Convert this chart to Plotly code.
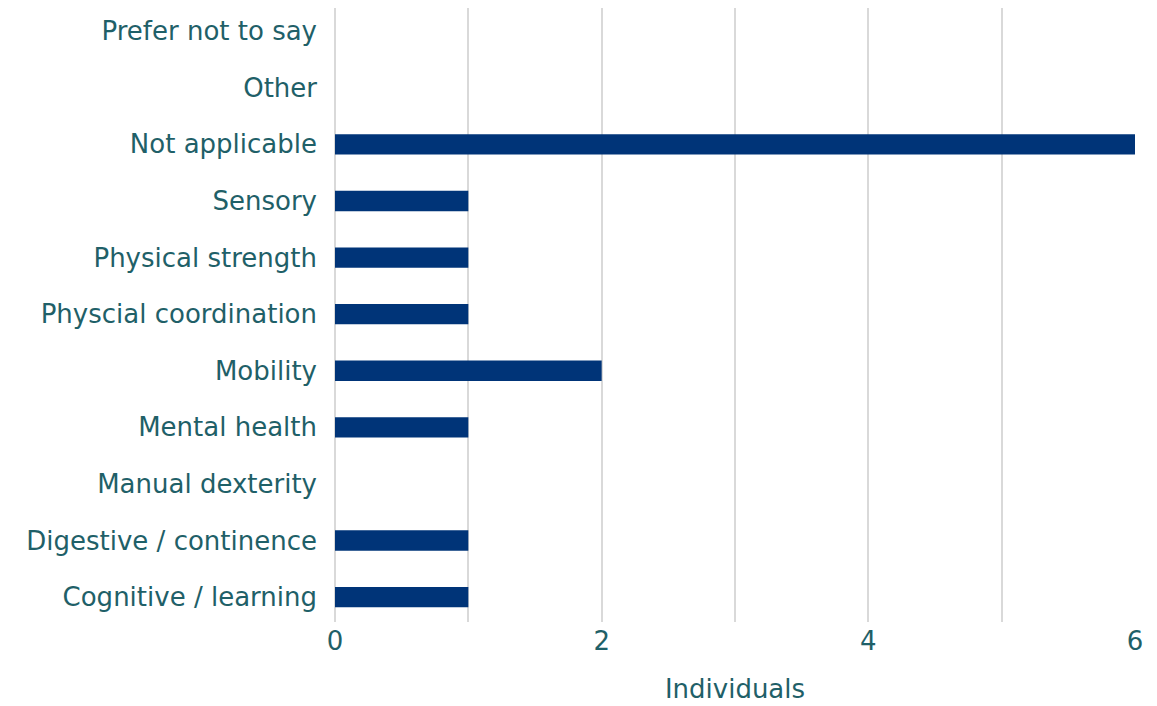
import plotly.graph_objects as go

categories = ["Cognitive / learning", "Digestive / continence", "Manual dexterity",
              "Mental health", "Mobility", "Physcial coordination", "Physical strength",
              "Sensory", "Not applicable", "Other", "Prefer not to say"]
values = [1, 1, 0, 1, 2, 1, 1, 1, 6, 0, 0]
x_ticks = [0, 2, 4, 6]

text_color = "#1f6068"
bar_color = "#003478"
grid_color = "#d9d9d9"
font_family = "DejaVu Sans"
fs = 26

fig = go.Figure(go.Bar(
    x=values, y=categories, orientation="h",
    marker=dict(color=bar_color, line=dict(width=0)),
    width=0.36,
))

fig.update_layout(
    width=1149, height=698,
    margin=dict(l=327, r=22, t=0, b=84),
    paper_bgcolor="white", plot_bgcolor="white",
    font=dict(family=font_family, color=text_color, size=fs),
    showlegend=False,
)
fig.update_xaxes(
    range=[0, 6], tickvals=x_ticks, ticktext=[str(v) for v in x_ticks],
    showgrid=True, gridcolor=grid_color, gridwidth=2,
    minor=dict(dtick=1, showgrid=True, gridcolor=grid_color, gridwidth=2),
    zeroline=True, zerolinecolor=grid_color, zerolinewidth=2,
    showline=False, ticks="", ticklabelstandoff=1,
    title=dict(text="Individuals", font=dict(size=fs, color=text_color), standoff=24),
    tickfont=dict(size=fs, color=text_color),
)
fig.update_yaxes(
    categoryorder="array", categoryarray=categories,
    range=[-0.44, 10.41],
    showgrid=False, showline=False, ticks="", ticklabelstandoff=17,
    tickfont=dict(size=fs, color=text_color),
)

fig.write_html("out.html")
